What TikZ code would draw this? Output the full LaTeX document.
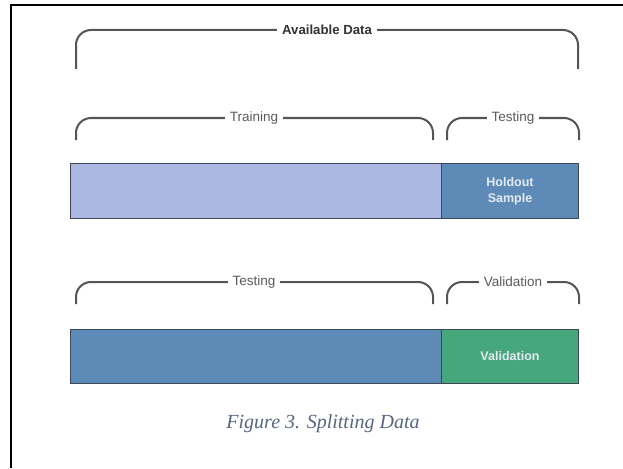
\documentclass[tikz,border=0pt]{standalone}
\usepackage{fontspec}
\setmainfont{Liberation Serif}
\setsansfont{Liberation Sans}
\definecolor{lightbar}{HTML}{ABB9E2}
\definecolor{midbar}{HTML}{5E8AB8}
\definecolor{greenbar}{HTML}{47A77C}
\definecolor{bardark}{HTML}{3C4856}
\definecolor{brkgray}{HTML}{555555}
\definecolor{labgray}{HTML}{5A5A5A}
\definecolor{capcolor}{HTML}{56667E}
\definecolor{bartext}{HTML}{E4EAF2}
\begin{document}
\begin{tikzpicture}[x=1pt,y=-1pt,
  brk/.style={draw=brkgray,line width=2pt,rounded corners=15pt},
  lbl/.style={fill=white,inner xsep=5pt,inner ysep=1pt,text=labgray,
    font=\sffamily\fontsize{13.5}{15}\selectfont},
  bar/.style={draw=bardark,line width=1pt,anchor=north west,inner sep=0pt,
    minimum height=55pt,text=bartext,align=center,
    font=\sffamily\bfseries\fontsize{12.5}{16}\selectfont}
]
\useasboundingbox (0,0) rectangle (623,468);
% frame
\draw[line width=2pt] (11,468) -- (11,5) -- (623,5);

% Available Data bracket
\draw[brk] (76,69) -- (76,30) -- (578,30) -- (578,69);
\node[lbl,text=black!80,font=\sffamily\bfseries\fontsize{13.2}{15}\selectfont] (avail) at (327,30) {Available Data};

% row 1 brackets
\draw[brk] (76,140) -- (76,118) -- (433,118) -- (433,140);
\node[lbl] (train) at (254,118) {Training};
\draw[brk] (447,140) -- (447,118) -- (579,118) -- (579,140);
\node[lbl] (test1) at (513,118) {Testing};

% row 1 bar
\node[bar,fill=lightbar,minimum width=371pt] (trainbar) at (70,163) {};
\node[bar,fill=midbar,minimum width=137pt] (holdbar) at (441,163) {Holdout\\Sample};

% row 2 brackets
\draw[brk] (76,304) -- (76,282) -- (433,282) -- (433,304);
\node[lbl] (test2) at (254,282) {Testing};
\draw[brk] (447,304) -- (447,282) -- (579,282) -- (579,304);
\node[lbl] (valid) at (513,282) {Validation};

% row 2 bar
\node[bar,fill=midbar,minimum width=371pt,minimum height=54pt] (testbar) at (70,329) {};
\node[bar,fill=greenbar,minimum width=137pt,minimum height=54pt] (validbar) at (441,329) {Validation};

% caption
\node[text=capcolor,font=\itshape\fontsize{20}{23}\selectfont] (cap) at (323,424) {Figure 3. Splitting Data};
\end{tikzpicture}
\end{document}
